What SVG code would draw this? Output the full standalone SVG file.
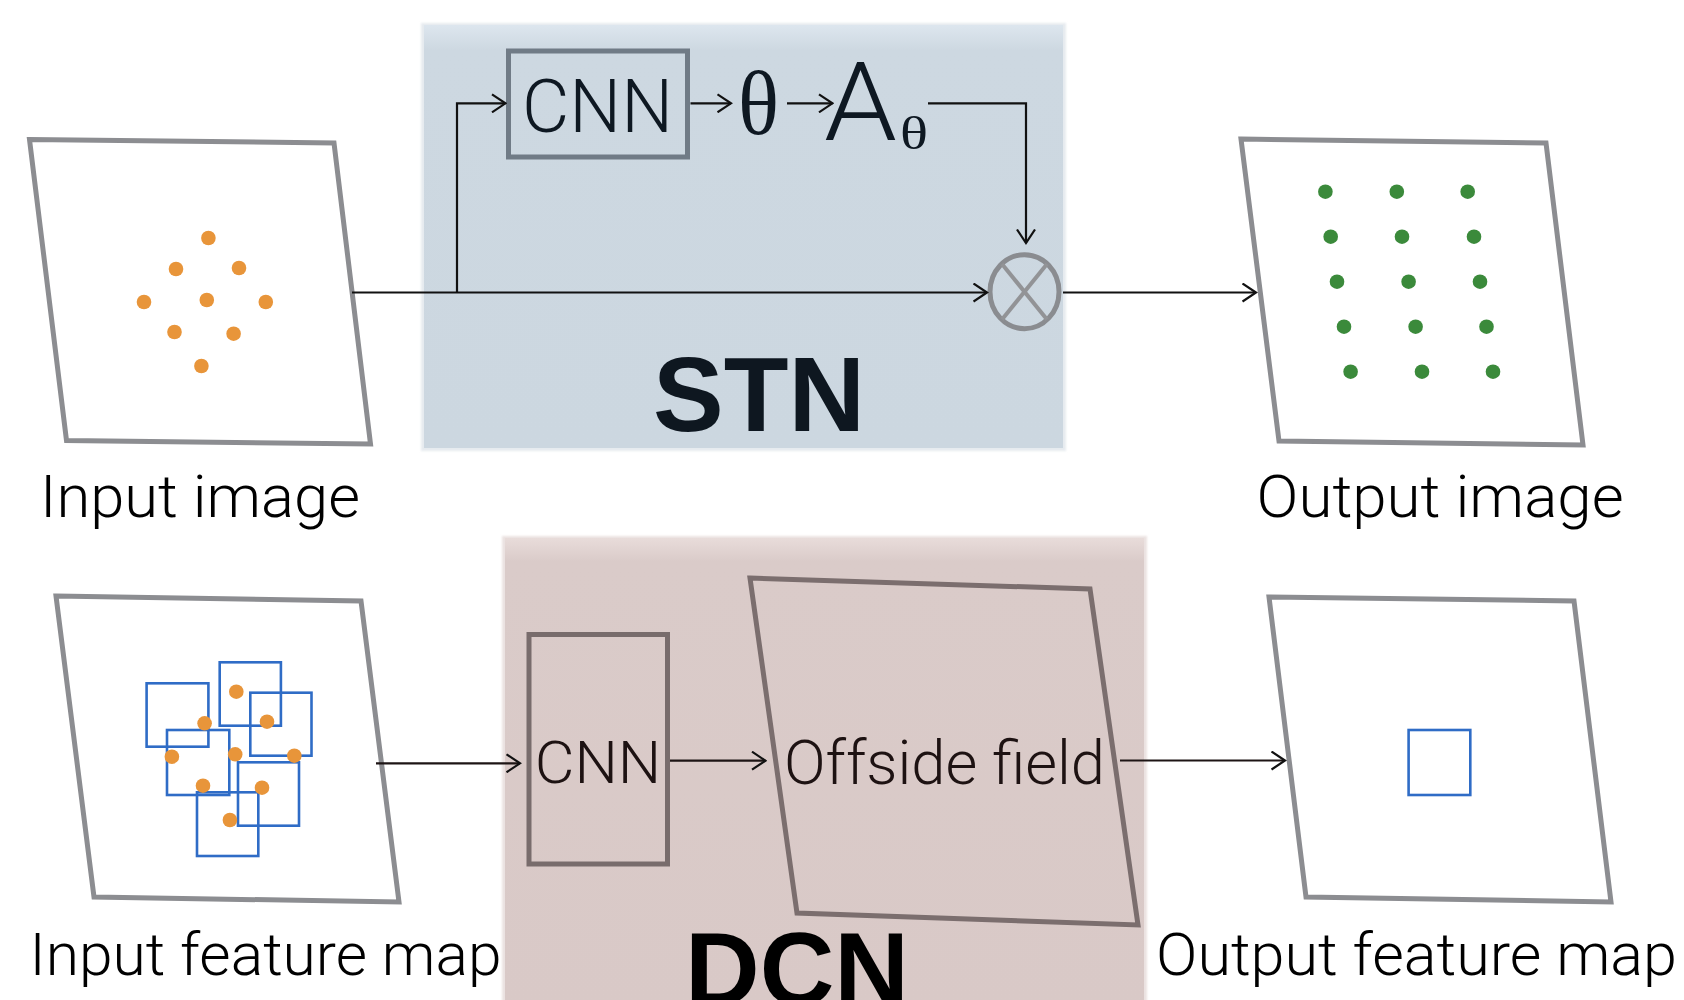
<svg xmlns="http://www.w3.org/2000/svg" width="1684" height="1000" viewBox="0 0 1684 1000">
<style>
.frame{fill:#ffffff;stroke:#8c8d91;stroke-width:5;stroke-linejoin:miter}
.odot{fill:#e8953a}
.gdot{fill:#3b8a3b}
.bsq{fill:none;stroke:#2f6cc6;stroke-width:2.6}
.lbl{font-family:Roboto,"Liberation Sans",Arial,sans-serif;font-weight:300;font-size:60px;fill:#000}
.con{fill:none;stroke:#111;stroke-width:2.2}
.conb{fill:none;stroke:#1d1414;stroke-width:2.2}
.bold{font-family:"Liberation Sans",Arial,sans-serif;font-weight:bold}
</style>
<defs>
<marker id="ah" viewBox="0 0 16 20" refX="14.5" refY="10" markerWidth="16" markerHeight="20" markerUnits="userSpaceOnUse" orient="auto">
<path d="M1,1 L14.5,10 L1,19" fill="none" stroke="#111" stroke-width="2.2"/>
</marker>
<linearGradient id="gstn" x1="0" y1="0" x2="0" y2="1">
<stop offset="0" stop-color="#dde6ee"/>
<stop offset="0.06" stop-color="#cdd8e1"/>
<stop offset="1" stop-color="#ccd7e0"/>
</linearGradient>
<linearGradient id="gdcn" x1="0" y1="0" x2="0" y2="1">
<stop offset="0" stop-color="#e8dcda"/>
<stop offset="0.05" stop-color="#dacbc9"/>
<stop offset="1" stop-color="#d9c9c7"/>
</linearGradient>
<filter id="soft" x="-5%" y="-5%" width="110%" height="110%">
<feGaussianBlur stdDeviation="1.2"/>
</filter>
</defs>
<rect width="1684" height="1000" fill="#ffffff"/>

<g id="stn">
<rect x="421" y="23" width="645" height="428" fill="#e6ebef" filter="url(#soft)"/>
<rect x="424" y="25" width="639" height="423" fill="url(#gstn)"/>
<text class="bold" x="653" y="431" font-size="106" fill="#0e1720" textLength="212" lengthAdjust="spacingAndGlyphs">STN</text>
</g>

<g id="dcn">
<rect x="502" y="536" width="645" height="470" fill="#ebe2e1" filter="url(#soft)"/>
<rect x="505" y="538" width="639" height="470" fill="url(#gdcn)"/>
<text class="bold" x="685" y="1005" font-size="104" fill="#000" textLength="224" lengthAdjust="spacingAndGlyphs">DCN</text>
</g>

<g id="input-image">
<polygon class="frame" points="29.5,139.5 334,143 370.5,444 66.5,440.5"/>
<circle class="odot" cx="208.4" cy="238" r="7.3"/>
<circle class="odot" cx="176" cy="269" r="7.3"/>
<circle class="odot" cx="239" cy="268" r="7.3"/>
<circle class="odot" cx="144" cy="302" r="7.3"/>
<circle class="odot" cx="206.8" cy="300" r="7.3"/>
<circle class="odot" cx="265.8" cy="302" r="7.3"/>
<circle class="odot" cx="174.5" cy="332" r="7.3"/>
<circle class="odot" cx="233.6" cy="333.7" r="7.3"/>
<circle class="odot" cx="201.4" cy="366" r="7.3"/>
<text class="lbl" x="40" y="516.5" textLength="320" lengthAdjust="spacingAndGlyphs">Input image</text>
</g>

<g id="stn-cnn">
<rect x="508.5" y="51" width="179" height="106" fill="none" stroke="#707b86" stroke-width="5"/>
<text x="522" y="131.7" font-family="Roboto,'Liberation Sans',Arial,sans-serif" font-weight="300" font-size="74" fill="#0e1822" textLength="151" lengthAdjust="spacingAndGlyphs">CNN</text>
</g>

<g id="theta">
<text x="738" y="134" font-family="'Liberation Serif','Times New Roman',serif" font-size="90" fill="#0e1822" textLength="41" lengthAdjust="spacingAndGlyphs">θ</text>
</g>

<g id="a-theta">
<text x="824" y="140" font-family="Roboto,'Liberation Sans',Arial,sans-serif" font-weight="300" font-size="109" fill="#0e1822" textLength="73" lengthAdjust="spacingAndGlyphs">A</text>
<text x="900" y="149" font-family="'Liberation Serif','Times New Roman',serif" font-size="47" fill="#0e1822" textLength="28" lengthAdjust="spacingAndGlyphs">θ</text>
</g>

<g id="multiply">
<ellipse cx="1024.5" cy="291.7" rx="34.5" ry="37" fill="none" stroke="#8a8c90" stroke-width="5"/>
<line x1="1002" y1="264" x2="1047" y2="319.5" stroke="#929396" stroke-width="4"/>
<line x1="1047" y1="264" x2="1002" y2="319.5" stroke="#929396" stroke-width="4"/>
</g>

<g id="output-image">
<polygon class="frame" points="1241,139 1546,143 1583,445 1279,441"/>
<circle class="gdot" cx="1325.4" cy="191.7" r="7.3"/>
<circle class="gdot" cx="1396.8" cy="191.7" r="7.3"/>
<circle class="gdot" cx="1467.7" cy="191.7" r="7.3"/>
<circle class="gdot" cx="1330.7" cy="236.7" r="7.3"/>
<circle class="gdot" cx="1402" cy="236.7" r="7.3"/>
<circle class="gdot" cx="1474" cy="236.7" r="7.3"/>
<circle class="gdot" cx="1337" cy="281.7" r="7.3"/>
<circle class="gdot" cx="1408.6" cy="281.7" r="7.3"/>
<circle class="gdot" cx="1480" cy="281.7" r="7.3"/>
<circle class="gdot" cx="1344" cy="326.7" r="7.3"/>
<circle class="gdot" cx="1415.6" cy="326.7" r="7.3"/>
<circle class="gdot" cx="1486.5" cy="326.7" r="7.3"/>
<circle class="gdot" cx="1350.6" cy="371.7" r="7.3"/>
<circle class="gdot" cx="1422" cy="371.7" r="7.3"/>
<circle class="gdot" cx="1493" cy="371.7" r="7.3"/>
<text class="lbl" x="1256.6" y="516.5" textLength="367" lengthAdjust="spacingAndGlyphs">Output image</text>
</g>

<g id="input-feature-map">
<polygon class="frame" points="56,596 361,601 399,902 94,897"/>
<rect class="bsq" x="146.6" y="683.3" width="61.8" height="63.4"/>
<rect class="bsq" x="219.7" y="662.3" width="61.2" height="63.4"/>
<rect class="bsq" x="250.3" y="692.7" width="61.2" height="63"/>
<rect class="bsq" x="167" y="730" width="62.3" height="65"/>
<rect class="bsq" x="238" y="762.3" width="61" height="63.4"/>
<rect class="bsq" x="197" y="792.3" width="61.3" height="63.7"/>
<circle class="odot" cx="236.3" cy="691.7" r="7.3"/>
<circle class="odot" cx="204.6" cy="723.3" r="7.3"/>
<circle class="odot" cx="267" cy="721.7" r="7.3"/>
<circle class="odot" cx="171.9" cy="756.7" r="7.3"/>
<circle class="odot" cx="235.2" cy="754.3" r="7.3"/>
<circle class="odot" cx="294.3" cy="755.7" r="7.3"/>
<circle class="odot" cx="203" cy="785.7" r="7.3"/>
<circle class="odot" cx="262" cy="787.7" r="7.3"/>
<circle class="odot" cx="229.9" cy="820" r="7.3"/>
<text class="lbl" x="29.5" y="975" textLength="472" lengthAdjust="spacingAndGlyphs">Input feature map</text>
</g>

<g id="dcn-cnn">
<rect x="529" y="634.5" width="138.5" height="229.5" fill="none" stroke="#786c6c" stroke-width="5"/>
<text x="534.7" y="783.3" font-family="Roboto,'Liberation Sans',Arial,sans-serif" font-weight="300" font-size="60" fill="#1d1212" textLength="126.6" lengthAdjust="spacingAndGlyphs">CNN</text>
</g>

<g id="offside-field">
<polygon points="750,578 1090,589 1138,925 797,913" fill="none" stroke="#7b6e6e" stroke-width="5"/>
<text x="784" y="784" font-family="Roboto,'Liberation Sans',Arial,sans-serif" font-weight="300" font-size="61" fill="#1d1212" textLength="321" lengthAdjust="spacingAndGlyphs">Offside field</text>
</g>

<g id="output-feature-map">
<polygon class="frame" points="1269,597 1574,601 1611,902 1306,897"/>
<rect class="bsq" x="1408.6" y="730" width="61.7" height="65"/>
<text class="lbl" x="1156" y="975" textLength="521" lengthAdjust="spacingAndGlyphs">Output feature map</text>
</g>

<g id="connectors">
<line class="con" x1="352" y1="292.5" x2="987" y2="292.5" marker-end="url(#ah)"/>
<polyline class="con" points="457,292.5 457,103.3 505.5,103.3" marker-end="url(#ah)"/>
<line class="con" x1="690.5" y1="103.3" x2="731" y2="103.3" marker-end="url(#ah)"/>
<line class="con" x1="787" y1="103.3" x2="832.5" y2="103.3" marker-end="url(#ah)"/>
<polyline class="con" points="928,103.3 1026,103.3 1026,243" marker-end="url(#ah)"/>
<line class="con" x1="1063" y1="292.5" x2="1256" y2="292.5" marker-end="url(#ah)"/>
<line class="conb" x1="376" y1="763.3" x2="520" y2="763.3" marker-end="url(#ah)"/>
<line class="conb" x1="670" y1="760.7" x2="765.5" y2="760.7" marker-end="url(#ah)"/>
<line class="conb" x1="1120" y1="760.5" x2="1285" y2="760.5" marker-end="url(#ah)"/>
</g>
</svg>
